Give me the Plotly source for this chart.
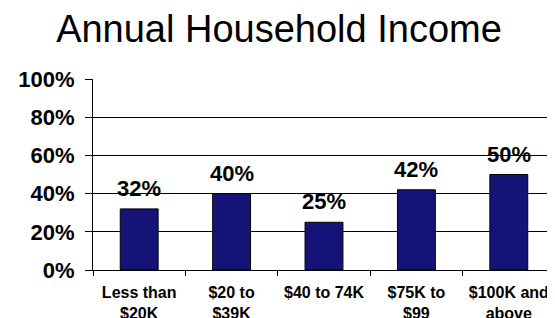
import plotly.graph_objects as go

categories = ["Less than<br>$20K", "$20 to<br>$39K", "$40 to 74K", "$75K to<br>$99", "$100K and<br>above"]
values = [32, 40, 25, 42, 50]
label_texts = ["32%", "40%", "25%", "42%", "50%"]
y_ticks = [0, 20, 40, 60, 80, 100]
y_tick_labels = ["0%", "20%", "40%", "60%", "80%", "100%"]
title_text = "Annual Household Income"

FONT = "Liberation Sans, Arial, sans-serif"

# the page body has an 8px default margin; size the figure so it fills the window
W, H = 547, 310

fig = go.Figure()
fig.add_trace(go.Bar(
    x=categories,
    y=values,
    marker=dict(color="#141478", line=dict(color="#000000", width=1)),
    hoverinfo="skip",
))

for c, v, t in zip(categories, values, label_texts):
    fig.add_annotation(
        x=c, y=v, text="<b>%s</b>" % t, showarrow=False,
        yanchor="bottom", yshift=6,
        font=dict(family=FONT, size=22, color="#000000"),
    )

fig.update_layout(
    width=W, height=H,
    margin=dict(l=85, r=0, t=71, b=48),
    paper_bgcolor="#ffffff", plot_bgcolor="#ffffff",
    bargap=0.59,
    showlegend=False,
    title=dict(
        text=title_text, x=271 / W, xanchor="center",
        yref="container", y=1 - 21 / H, yanchor="middle",
        font=dict(family=FONT, size=38, color="#000000"),
    ),
)
fig.update_xaxes(
    automargin=False,
    showline=True, linecolor="#000000", linewidth=1,
    ticks="outside", tickson="boundaries", ticklen=5, tickcolor="#000000",
    showgrid=False,
    tickfont=dict(family=FONT, size=16, color="#000000", weight="bold"),
    ticklabelstandoff=8,
)
fig.update_yaxes(
    automargin=False,
    range=[0, 100], tickvals=y_ticks, ticktext=y_tick_labels,
    showline=True, linecolor="#000000", linewidth=1,
    ticks="outside", ticklen=7, tickcolor="#000000",
    showgrid=True, gridcolor="#000000", gridwidth=1,
    zeroline=False,
    tickfont=dict(family=FONT, size=22, color="#000000", weight="bold"),
    ticklabelstandoff=6,
)

fig.write_html("out.html")
